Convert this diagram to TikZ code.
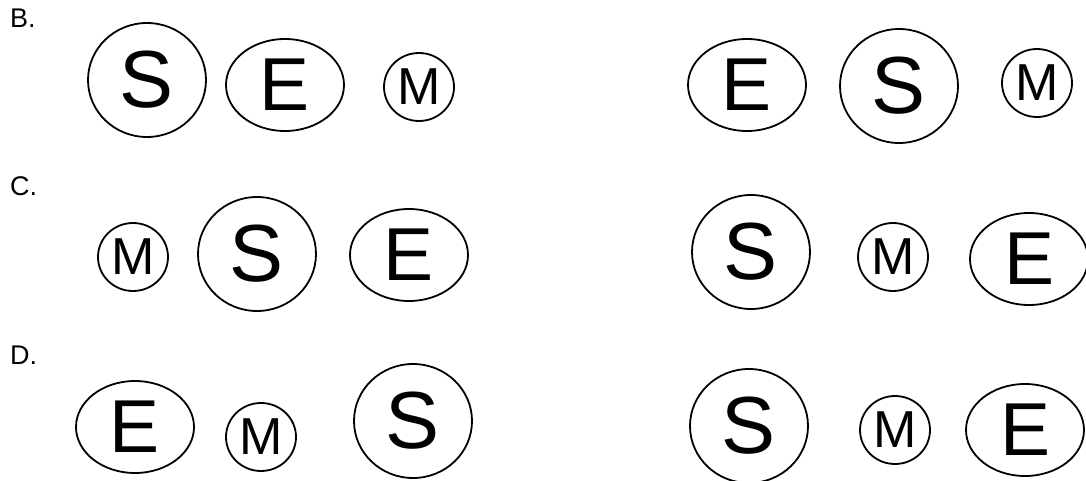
\documentclass[tikz,border=0pt]{standalone}
\usepackage{fontspec}
\setmainfont{Liberation Sans}
\usetikzlibrary{shapes.geometric}
\begin{document}
\begin{tikzpicture}[x=1pt,y=-1pt,
  bubble/.style={ellipse,draw,line width=1.8pt,inner sep=0pt},
  sbub/.style={bubble,minimum width=118pt,minimum height=114pt,font=\fontsize{81}{81}\selectfont},
  ebub/.style={bubble,minimum width=118pt,minimum height=92pt,font=\fontsize{75}{75}\selectfont},
  mbub/.style={bubble,minimum width=70pt,minimum height=68pt,font=\fontsize{52}{52}\selectfont},
  lbl/.style={anchor=base west,inner sep=0pt,font=\fontsize{27}{27}\selectfont}]
\useasboundingbox (0,0) rectangle (1086,481);
% labels
\node[lbl] (lb) at (10,27.5) {B.};
\node[lbl] (lc) at (10,195) {C.};
\node[lbl] (ld) at (10,364) {D.};
% row B
\node[sbub] (b1s) at (147,80) {S};
\node[ebub] (b1e) at (285,85) {E};
\node[mbub] (b1m) at (419,87) {M};
\node[ebub] (b2e) at (747,85) {E};
\node[sbub] (b2s) at (899,86) {S};
\node[mbub] (b2m) at (1037,83) {M};
% row C
\node[mbub] (c1m) at (133,257) {M};
\node[sbub] (c1s) at (257,254) {S};
\node[ebub] (c1e) at (409,255) {E};
\node[sbub] (c2s) at (751,252) {S};
\node[mbub] (c2m) at (893,257) {M};
\node[ebub] (c2e) at (1029,259) {E};
% row D
\node[ebub] (d1e) at (135,427) {E};
\node[mbub] (d1m) at (261,437) {M};
\node[sbub] (d1s) at (413,421) {S};
\node[sbub] (d2s) at (749,426) {S};
\node[mbub] (d2m) at (895,430) {M};
\node[ebub] (d2e) at (1025,430) {E};
\end{tikzpicture}
\end{document}
